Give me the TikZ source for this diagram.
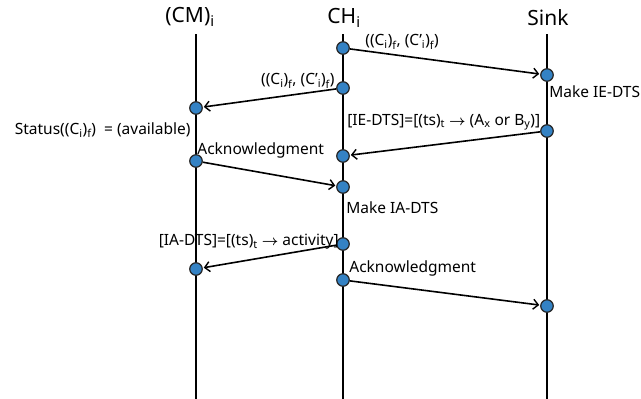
\documentclass[tikz,border=0pt]{standalone}
\usepackage{fontspec}
\setmainfont{Noto Sans}
\usetikzlibrary{positioning,arrows.meta}
\tikzset{every picture/.style={line width=0.75pt}}
\definecolor{dotblue}{RGB}{52,130,196}
\tikzset{
  dot/.style={circle,draw=black!85,fill=dotblue,inner sep=0pt,minimum size=12.5pt,line width=1.2pt},
  msg/.style={-{Straight Barb[length=5pt,width=10pt,line width=1.4pt]},line width=1.6pt,shorten >=1pt},
  lifeline/.style={line width=1.8pt},
  head/.style={font=\fontsize{21}{24}\selectfont,inner sep=0pt},
  lbl/.style={font=\fontsize{15.5}{18}\selectfont,inner sep=1pt}
}
\newcommand{\sub}[1]{\textsubscript{#1}}
\newcommand{\tto}{\ $\boldsymbol{\rightarrow}$\ }
\usepackage{amsmath}

\begin{document}
\begin{tikzpicture}[x=1pt,y=-1pt]
\useasboundingbox (0,0) rectangle (641,399);
%
\node[head] (cm) at (190,17) {(CM)\sub{i}};
\node[head] (ch) at (344,18) {CH\sub{i}};
\node[head] (sink) at (548,18) {Sink};
\coordinate (cmtop) at (196,34);
\coordinate (chtop) at (343,34);
\coordinate (sinktop) at (547,34);
\coordinate (cmbot) at (196,399);
\coordinate (chbot) at (343,399);
\coordinate (sinkbot) at (547,399);
\foreach \Top/\Bot in {cmtop/cmbot,chtop/chbot,sinktop/sinkbot}
\draw[lifeline] (\Top) -- (\Bot);
%
\foreach \Name/\Y in {c1/48,c2/88,c3/156,c4/187,c5/244,c6/280}
\node[dot] (\Name) at (343,\Y) {};
\foreach \Name/\Y in {s1/75,s2/131,s3/306}
\node[dot] (\Name) at (547,\Y) {};
\foreach \Name/\Y in {m1/108,m2/161,m3/269}
\node[dot] (\Name) at (196,\Y) {};
%
\foreach \Source/\Target in {%
	c1/s1,
	c2/m1,
	s2/c3,
	m2/c4,
	c5/m3,
	c6/s3%
    }
\draw[msg] (\Source) -- (\Target);
%
\node[lbl,anchor=west] at (364,42) {((C\sub{i})\sub{f}, (C'\sub{i})\sub{f})};
\node[lbl,anchor=east] at (336,81) {((C\sub{i})\sub{f}, (C'\sub{i})\sub{f})};
\node[lbl,anchor=west] at (548,92) {Make IE-DTS};
\node[lbl,anchor=west] at (346,122) {[IE-DTS]=[(ts)\sub{t}\tto(A\sub{x} or B\sub{y})]};
\node[lbl,anchor=east] at (192,130) {Status((C\sub{i})\sub{f}) \ = (available)};
\node[lbl,anchor=west] at (196,150) {Acknowledgment};
\node[lbl,anchor=west] at (345,208) {Make IA-DTS};
\node[lbl,anchor=east] at (340,242) {[IA-DTS]=[(ts)\sub{t}\tto activity]};
\node[lbl,anchor=west] at (348,268) {Acknowledgment};
\end{tikzpicture}
\end{document}
